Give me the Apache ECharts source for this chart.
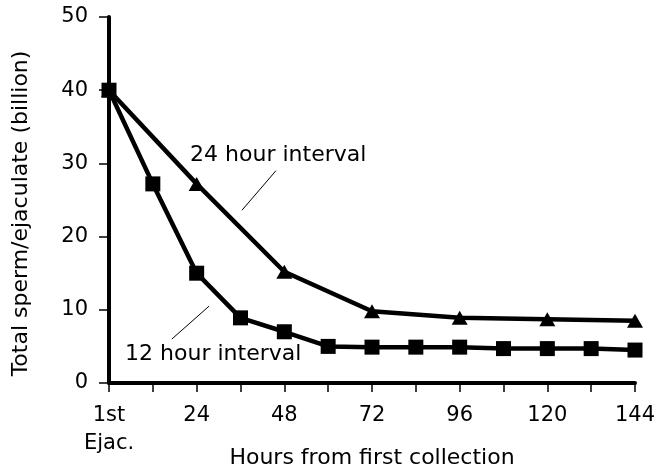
<!DOCTYPE html>
<html>
<head>
<meta charset="utf-8">
<script src="https://cdn.jsdelivr.net/npm/echarts@6/dist/echarts.min.js"></script>
<style>
  html, body { margin: 0; padding: 0; background: #fff; }
  #chart { width: 658px; height: 474px; }
</style>
</head>
<body>
<div id="chart"></div>
<script>
// ---- data ----
const hours12 = [0, 12, 24, 36, 48, 60, 72, 84, 96, 108, 120, 132, 144];
const sperm12 = [40, 27.2, 15, 8.9, 7.0, 5.0, 4.9, 4.9, 4.9, 4.7, 4.7, 4.7, 4.5];
const hours24 = [0, 24, 48, 72, 96, 120, 144];
const sperm24 = [40, 27.2, 15.2, 9.8, 8.9, 8.7, 8.5];
const yTicks = [0, 10, 20, 30, 40, 50];
const xTickLabels = { 0: '1st\nEjac.', 24: '24', 48: '48', 72: '72', 96: '96', 120: '120', 144: '144' };
const xTitle = 'Hours from first collection';
const yTitle = 'Total sperm/ejaculate (billion)';
const label24 = '24 hour interval';
const label12 = '12 hour interval';
// annotation anchors in data coordinates [hours, billion]
const label24Anchor = [22.2, 31.3];
const leader24 = [[45.7, 29.0], [36.4, 23.6]];
const label12Anchor = [4.4, 4.1];
const leader12 = [[27.4, 10.5], [17.2, 6.0]];

const FONT = 'DejaVu Sans';
const chart = echarts.init(document.getElementById('chart'), null, { renderer: 'canvas' });

const option = {
  animation: false,
  backgroundColor: '#ffffff',
  grid: { left: 109, right: 23, top: 17, bottom: 91, containLabel: false, outerBoundsMode: 'none' },
  xAxis: {
    type: 'value',
    min: 0, max: 144, interval: 12,
    axisLine: { show: true, onZero: false, lineStyle: { color: '#000', width: 4 } },
    axisTick: { show: true, inside: false, length: 9, lineStyle: { color: '#000', width: 1.5 } },
    axisLabel: {
      show: true, margin: 19,
      fontFamily: FONT, fontSize: 21, color: '#000', lineHeight: 28,
      showMinLabel: true, showMaxLabel: true,
      formatter: function (v) { return xTickLabels[v] !== undefined ? xTickLabels[v] : ''; }
    },
    splitLine: { show: false }
  },
  yAxis: {
    type: 'value',
    min: yTicks[0], max: yTicks[yTicks.length - 1], interval: 10,
    axisLine: { show: true, onZero: false, lineStyle: { color: '#000', width: 4 } },
    axisTick: { show: true, inside: false, length: 10, lineStyle: { color: '#000', width: 1.5 } },
    axisLabel: { show: true, margin: 21, fontFamily: FONT, fontSize: 21, color: '#000' },
    splitLine: { show: false }
  },
  series: [
    {
      name: label24,
      type: 'line',
      data: hours24.map((h, i) => [h, sperm24[i]]),
      symbol: 'triangle', symbolSize: [16, 14],
      lineStyle: { color: '#000', width: 4.5 },
      itemStyle: { color: '#000', borderWidth: 0 },
      z: 2
    },
    {
      name: label12,
      type: 'line',
      data: hours12.map((h, i) => [h, sperm12[i]]),
      symbol: 'rect', symbolSize: 15,
      lineStyle: { color: '#000', width: 4.5 },
      itemStyle: { color: '#000', borderWidth: 0 },
      z: 3
    }
  ]
};
chart.setOption(option);

function px(p) { return chart.convertToPixel({ gridIndex: 0 }, p); }
const a24 = px(label24Anchor), a12 = px(label12Anchor);
const l24a = px(leader24[0]), l24b = px(leader24[1]);
const l12a = px(leader12[0]), l12b = px(leader12[1]);
const origin = px([0, 0]), far = px([144, 0]);

chart.setOption({
  graphic: [
    { type: 'text', left: a24[0], top: a24[1] - 10,
      style: { text: label24, fontFamily: FONT, fontSize: 22, fill: '#000' } },
    { type: 'text', left: a12[0], top: a12[1] - 10,
      style: { text: label12, fontFamily: FONT, fontSize: 22, fill: '#000' } },
    { type: 'line', shape: { x1: l24a[0], y1: l24a[1], x2: l24b[0], y2: l24b[1] },
      style: { stroke: '#000', lineWidth: 1 } },
    { type: 'line', shape: { x1: l12a[0], y1: l12a[1], x2: l12b[0], y2: l12b[1] },
      style: { stroke: '#000', lineWidth: 1 } },
    { type: 'text', x: (origin[0] + far[0]) / 2, y: origin[1] + 75,
      style: { text: xTitle, fontFamily: FONT, fontSize: 22, fill: '#000',
               align: 'center', verticalAlign: 'middle' } },
    { type: 'text', x: 21, y: 213.5, rotation: Math.PI / 2,
      style: { text: yTitle, fontFamily: FONT, fontSize: 22, fill: '#000',
               align: 'center', verticalAlign: 'middle' } }
  ]
});
</script>
</body>
</html>
